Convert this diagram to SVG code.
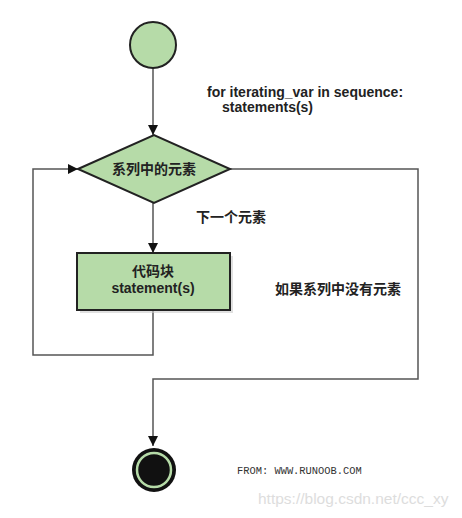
<svg xmlns="http://www.w3.org/2000/svg" width="462" height="518" viewBox="0 0 462 518">
<defs>
<marker id="arr" viewBox="0 0 10 10" refX="10" refY="5" markerWidth="10" markerHeight="10" markerUnits="userSpaceOnUse" orient="auto">
<path d="M0,0 L10,5 L0,10 z" fill="#111"/>
</marker>
</defs>
<style>
.ln{fill:none;stroke:#555;stroke-width:1.5}
.t{font-family:"Liberation Sans","Noto Sans CJK SC",sans-serif;font-weight:bold;font-size:14px;fill:#222}
.node{fill:#b6dba8;stroke:#222;stroke-width:2}
</style>
<rect width="462" height="518" fill="#fff"/>
<g id="connectors">
<path class="ln" d="M153,68 V135" marker-end="url(#arr)"/>
<path class="ln" d="M153,203 V253" marker-end="url(#arr)"/>
<path class="ln" d="M153,311 V355 H33 V169 H78" marker-end="url(#arr)"/>
<path class="ln" d="M230,169 H418 V379 H153 V446" marker-end="url(#arr)"/>
</g>
<g id="start">
<circle class="node" cx="153" cy="45" r="23"/>
</g>
<g id="code-text">
<text class="t" x="207" y="97" font-size="14.5">for iterating_var in sequence:</text>
<text class="t" x="222" y="112" font-size="14.5">statements(s)</text>
</g>
<g id="decision">
<polygon class="node" points="78,169 154,135 230,169 154,203"/>
<text class="t" x="154" y="174" text-anchor="middle">系列中的元素</text>
</g>
<g id="next-label">
<text class="t" x="196" y="222">下一个元素</text>
</g>
<g id="block">
<rect x="80" y="256" width="153" height="57" fill="#ccc" opacity="0.6"/>
<rect class="node" x="77" y="253" width="153" height="57"/>
<text class="t" x="153" y="276" text-anchor="middle">代码块</text>
<text class="t" x="153" y="293" text-anchor="middle" font-size="13.5">statement(s)</text>
</g>
<g id="none-label">
<text class="t" x="275" y="294">如果系列中没有元素</text>
</g>
<g id="end">
<circle cx="154" cy="470" r="22" fill="#111"/>
<circle cx="154" cy="470" r="17" fill="none" stroke="#b6dba8" stroke-width="2.5"/>
</g>
<g id="credits">
<text x="237" y="474" font-family="'Liberation Mono',monospace" font-size="10.4" fill="#333">FROM: WWW.RUNOOB.COM</text>
<text x="258" y="504" font-family="'Liberation Sans',sans-serif" font-size="15.5" fill="#ddd">https://blog.csdn.net/ccc_xy</text>
</g>
</svg>
